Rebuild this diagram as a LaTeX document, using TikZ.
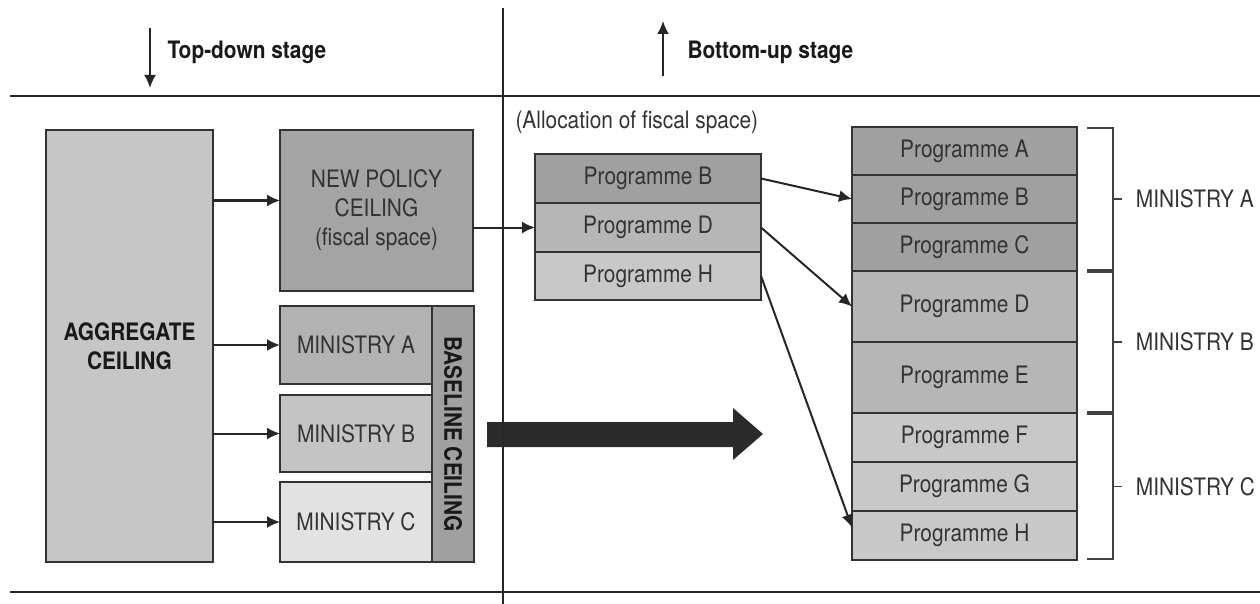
\documentclass[tikz,border=0pt]{standalone}
\usepackage{fontspec}
\setmainfont{TeX Gyre Heros}[FakeStretch=0.87]
\usetikzlibrary{arrows.meta,positioning}
\definecolor{aggfill}{HTML}{C6C6C6}
\definecolor{polfill}{HTML}{A4A4A4}
\definecolor{minAfill}{HTML}{B2B2B2}
\definecolor{minBfill}{HTML}{C4C4C4}
\definecolor{minCfill}{HTML}{E2E2E2}
\definecolor{basefill}{HTML}{A0A0A0}
\definecolor{darkfill}{HTML}{A0A0A0}
\definecolor{midfill}{HTML}{B6B6B6}
\definecolor{lightfill}{HTML}{C8C8C8}
\definecolor{bigarrow}{HTML}{2B2B2B}

\begin{document}
\begin{tikzpicture}[x=1pt,y=-1pt,>={Latex[length=13pt,width=12pt]},
  every node/.style={font=\fontsize{24}{29}\selectfont},
  heavy/.style={font=\fontsize{24}{29}\selectfont\bfseries,text=black!90},
  box/.style={draw=black!80,line width=2.2pt,inner sep=0pt,outer sep=0pt,
    align=center,text=black!80},
  prog/.style={box,minimum width=225pt},
  link/.style={->,line width=2pt,draw=black!85},
  brk/.style={line width=1.8pt,draw=black!75},
  rule/.style={line width=1.6pt,draw=black!85}]
\useasboundingbox[fill=white] (0,0) rectangle (1260,604);
% stage headers
\coordinate (tdtop) at (150,28);
\coordinate (tdbot) at (150,88);
\coordinate (butop) at (663,21);
\coordinate (bubot) at (663,76);
\draw[link] (tdtop) -- (tdbot);
\draw[link] (bubot) -- (butop);
\node[heavy,anchor=west] (tdlabel) at (164,52) {Top-down stage};
\node[heavy,anchor=west] (bulabel) at (684,52) {Bottom-up stage};
% top-down side
\node[box,heavy,fill=aggfill,minimum width=167pt,minimum height=432pt] (agg) at (129.5,346) {AGGREGATE\\CEILING};
\node[box,fill=polfill,minimum width=193pt,minimum height=161pt] (newpol) at (376.5,210.5) {NEW POLICY\\CEILING\\(fiscal space)};
\node[box,fill=minAfill,minimum width=152pt,minimum height=78pt] (minA) at (356,345) {MINISTRY A};
\node[box,fill=minBfill,minimum width=152pt,minimum height=77pt] (minB) at (356,433.5) {MINISTRY B};
\node[box,fill=minCfill,minimum width=152pt,minimum height=80pt] (minC) at (356,522) {MINISTRY C};
\node[box,heavy,fill=basefill,rotate=-90,minimum width=256pt,minimum height=42pt] (base) at (453,434) {BASELINE CEILING};
\draw[link] ([yshift=10pt]agg.east |- newpol.west) -- ([yshift=10pt]newpol.west);
\foreach \m in {minA,minB,minC}
  \draw[link] (agg.east |- \m.west) -- (\m.west);
% bottom-up side
\node[anchor=west,text=black!80] (alloc) at (512,122) {(Allocation of fiscal space)};
\node[prog,fill=darkfill,minimum height=49pt,minimum width=226pt] (lB) at (648,178.5) {Programme B};
\node[prog,fill=midfill,minimum height=49pt,minimum width=226pt,below=0pt of lB] (lD) {Programme D};
\node[prog,fill=lightfill,minimum height=48pt,minimum width=226pt,below=0pt of lD] (lH) {Programme H};
\draw[link] (newpol.east |- lD.west) -- (lD.west);
\node[prog,fill=darkfill,minimum height=48pt] (rA) at (964.5,151) {Programme A};
\node[prog,fill=darkfill,minimum height=48pt,below=0pt of rA] (rB) {Programme B};
\node[prog,fill=darkfill,minimum height=48pt,below=0pt of rB] (rC) {Programme C};
\node[prog,fill=midfill,minimum height=71pt,below=0pt of rC] (rD) {Programme D};
\node[prog,fill=midfill,minimum height=71pt,below=0pt of rD] (rE) {Programme E};
\node[prog,fill=lightfill,minimum height=49pt,below=0pt of rE] (rF) {Programme F};
\node[prog,fill=lightfill,minimum height=49pt,below=0pt of rF] (rG) {Programme G};
\node[prog,fill=lightfill,minimum height=49pt,below=0pt of rG] (rH) {Programme H};
\draw[link] (lB.east) -- (rB.west);
\draw[link] (lD.east) -- (rD.west);
\draw[link] (lH.east) -- ([yshift=8pt]rH.west);
% ministry brackets
\foreach \t/\b/\m/\lbl in {rA/rC/rB.east/A,rD/rE/rD.south east/B,rF/rH/rG.east/C}{
  \draw[brk] ([xshift=10pt,yshift=-1pt]\t.north east) -- ++(26,0)
    |- ([xshift=10pt,yshift=1pt]\b.south east);
  \draw[brk] ([xshift=36pt]\m) -- ++(9,0)
    node[right=13pt,inner sep=0pt,text=black!80] {MINISTRY \lbl};
}
% shift to the programme budgets
\fill[bigarrow] (487,422) -- (733,422) -- (733,408) -- (763,434)
  -- (733,460) -- (733,447) -- (487,447) -- cycle;
% frame
\draw[rule] (10,96) -- (1260,96);
\draw[rule] (10,592) -- (1260,592);
\draw[rule] (503,8) -- (503,604);
\end{tikzpicture}
\end{document}
